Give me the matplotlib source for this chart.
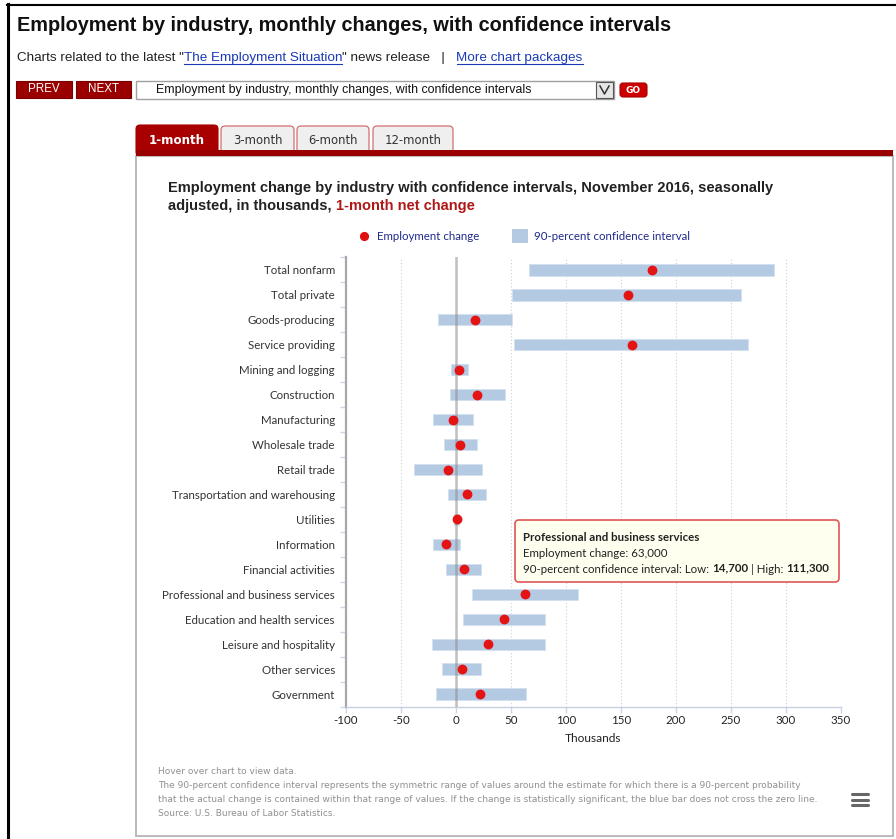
import matplotlib
matplotlib.use("Agg")
import matplotlib.pyplot as plt
from matplotlib.patches import Rectangle, FancyBboxPatch
from matplotlib.lines import Line2D

# ---------------- data ----------------
categories = [
    "Total nonfarm", "Total private", "Goods-producing", "Service providing",
    "Mining and logging", "Construction", "Manufacturing", "Wholesale trade",
    "Retail trade", "Transportation and warehousing", "Utilities", "Information",
    "Financial activities", "Professional and business services",
    "Education and health services", "Leisure and hospitality",
    "Other services", "Government",
]
change = [178, 156, 17, 160, 3, 19, -3, 4, -7, 10, 0.5, -9, 7, 63, 44, 29, 5, 22]
ci_low = [66, 51, -16, 53, -4.5, -5.5, -21, -11, -38, -7.5, -1.5, -21, -9, 14.7, 6.5, -22, -13, -18]
ci_high = [289, 259, 51, 265, 10.5, 44.5, 15.5, 19, 24, 27, 2.5, 4, 22.5, 111.3, 81, 81, 22.5, 64]
xticks = [-100, -50, 0, 50, 100, 150, 200, 250, 300, 350]

W, H = 896, 839
fig = plt.figure(figsize=(W / 100, H / 100), dpi=100)
fig.patch.set_facecolor("white")


def fx(x):
    return x / W


def fy(y):
    return 1 - y / H


def rect(x0, y0, x1, y1, **kw):
    r = Rectangle((fx(x0), fy(y1)), (x1 - x0) / W, (y1 - y0) / H,
                  transform=fig.transFigure, **kw)
    fig.patches.append(r)
    return r


def rrect(x0, y0, x1, y1, pad=3, **kw):
    r = FancyBboxPatch((fx(x0), fy(y1)), (x1 - x0) / W, (y1 - y0) / H,
                       boxstyle="round,pad=0,rounding_size=%f" % (pad / W),
                       transform=fig.transFigure, mutation_aspect=W / H, **kw)
    fig.patches.append(r)
    return r


def hline(x0, x1, y, **kw):
    fig.add_artist(Line2D([fx(x0), fx(x1)], [fy(y), fy(y)], transform=fig.transFigure, **kw))


def vline(x, y0, y1, **kw):
    fig.add_artist(Line2D([fx(x), fx(x)], [fy(y0), fy(y1)], transform=fig.transFigure, **kw))


renderer = fig.canvas.get_renderer()


def chain(x, y, parts, **common):
    """parts: list of (text, dict, dy). returns list of (x0,x1)"""
    spans = []
    for s, kw, dy in parts:
        d = dict(common)
        d.update(kw)
        t = fig.text(fx(x), fy(y + dy), s, va="baseline", ha="left", **d)
        bb = t.get_window_extent(renderer=renderer)
        spans.append((x, x + bb.width))
        x = x + bb.width
    return spans


# ---------------- page frame ----------------
vline(7.5, 4, 839, color="black", lw=2.2)
hline(7, 896, 5, color="black", lw=1.5)

# header
fig.text(fx(17), fy(31), "Employment by industry, monthly changes, with confidence intervals",
         family="Liberation Sans", weight="bold", fontsize=14.3, color="#111111", va="baseline")

link_col = "#1a3ab8"
spans = chain(17, 61, [
    ("Charts related to the latest \"", {}, 0),
    ("The Employment Situation", {"color": link_col}, 0),
    ("\" news release   |   ", {}, 0),
    ("More chart packages", {"color": link_col}, 0),
], family="Liberation Sans", fontsize=9.7, color="#222222")
for i in (1, 3):
    hline(spans[i][0], spans[i][1], 63.5, color=link_col, lw=0.8)

# buttons
rect(16, 81, 72, 98, facecolor="#9a0000", edgecolor="#7a0000", lw=0.8)
rect(76, 81, 131, 98, facecolor="#9a0000", edgecolor="#7a0000", lw=0.8)
fig.text(fx(44), fy(89.5), "PREV", color="white", fontsize=8.4, family="Liberation Sans",
         ha="center", va="center")
fig.text(fx(103.5), fy(89.5), "NEXT", color="white", fontsize=8.4, family="Liberation Sans",
         ha="center", va="center")
rect(136, 81, 614, 99, facecolor="white", edgecolor="#a0a0a0", lw=1)
fig.text(fx(156), fy(90), "Employment by industry, monthly changes, with confidence intervals",
         fontsize=8.9, family="Liberation Sans", color="#111111", va="center")
rect(596, 82, 613, 98, facecolor="#e6e6e6", edgecolor="#555555", lw=0.8)
fig.add_artist(Line2D([fx(600), fx(604.5), fx(609)], [fy(86), fy(94), fy(86)],
                      transform=fig.transFigure, color="#333333", lw=1.1))
rrect(620, 83, 647, 97, pad=3, facecolor="#cc0000", edgecolor="#aa0000", lw=0.8)
fig.text(fx(633.5), fy(90.3), "GO", color="white", fontsize=6.5, weight="bold",
         family="DejaVu Sans", ha="center", va="center")

# tabs
rrect(136, 125, 218, 156, pad=4, facecolor="#a80000", edgecolor="#a80000", lw=0.8)
for x0, x1 in [(221, 294), (297, 369), (373, 453)]:
    rrect(x0, 126, x1, 156, pad=4, facecolor="#efefef", edgecolor="#d27070", lw=0.9)
fig.text(fx(177), fy(141), "1-month", color="white", weight="bold", fontsize=8.6,
         family="DejaVu Sans", ha="center", va="center")
for xc, s in [(257.5, "3-month"), (333, "6-month"), (413, "12-month")]:
    fig.text(fx(xc), fy(141), s, color="#333333", fontsize=8.4, family="DejaVu Sans",
             ha="center", va="center")

# panel
rect(136, 156, 892.5, 836, facecolor="white", edgecolor="#b5b5b5", lw=1.3)
rect(136, 150, 893, 156, facecolor="#990000", edgecolor="none")

# chart title
fig.text(fx(168), fy(192), "Employment change by industry with confidence intervals, November 2016, seasonally",
         family="Liberation Sans", weight="bold", fontsize=10.5, color="#222222", va="baseline")
chain(168, 210, [
    ("adjusted, in thousands, ", {"color": "#222222"}, 0),
    ("1-month net change", {"color": "#b01818"}, 0),
], family="Liberation Sans", weight="bold", fontsize=10.5)

# legend
fig.add_artist(Line2D([fx(364)], [fy(236)], marker="o", markersize=5.6, color="#e01010",
                      transform=fig.transFigure, linestyle="none"))
fig.text(fx(377), fy(236), "Employment change", color="#1f2a8a", fontsize=8.3,
         family="Lato", va="center")
rect(512, 229, 528, 243, facecolor="#b4c9e2", edgecolor="none")
fig.text(fx(534), fy(236), "90-percent confidence interval", color="#1f2a8a", fontsize=8.3,
         family="Lato", va="center")

# ---------------- main plot ----------------
left, right, top, bottom = 346, 841, 257.5, 706.5
ax = fig.add_axes([fx(left), fy(bottom), (right - left) / W, (bottom - top) / H])
ax.set_zorder(5)
ax.set_facecolor("none")
ypos = list(range(len(categories)))
widths = [h - l for l, h in zip(ci_low, ci_high)]
ax.barh(ypos, widths, left=ci_low, height=0.45, color="#b4c9e2", edgecolor="#d3e0ef",
        linewidth=0.6, zorder=2)
ax.scatter(change, ypos, s=50, color="#e51414", zorder=4, linewidths=0)
ax.axvline(0, color="#8c8c8c", lw=1.8, alpha=0.55, zorder=3)
ax.set_xlim(xticks[0], xticks[-1])
ax.set_ylim(len(categories) - 0.5, -0.5)
ax.set_xticks(xticks)
ax.set_xticklabels([str(v) for v in xticks], family="Lato", fontsize=8.3, color="#222222")
for v in xticks[1:]:
    if v != 0:
        ax.axvline(v, color="#d0d0d0", lw=0.8, linestyle=(0, (1, 2)), zorder=1)
ax.set_yticks(ypos)
ax.set_yticklabels(categories, family="Lato", fontsize=8.3, color="#333333")
ax.set_yticks([i + 0.5 for i in range(-1, len(categories))], minor=True)
ax.tick_params(axis="y", which="major", length=0, pad=8)
ax.tick_params(axis="y", which="minor", length=4, color="#ccd6eb", width=1)
ax.tick_params(axis="x", which="major", length=4, color="#ccd6eb", width=1, pad=2)
for s in ("top", "right"):
    ax.spines[s].set_visible(False)
ax.spines["left"].set_color("#a8a8a8")
ax.spines["left"].set_linewidth(1.6)
ax.spines["bottom"].set_color("#c7d0e0")
ax.spines["bottom"].set_linewidth(1)
ax.set_xlabel("Thousands", family="Lato", fontsize=8.6, color="#222222", labelpad=5)

# tooltip
rrect(515, 520, 839, 582, pad=4, facecolor="#fffff0", edgecolor="#e05555", lw=1.2, zorder=10)
fig.text(fx(523), fy(541), "Professional and business services", family="Lato", weight="bold",
         fontsize=8.3, color="#222222", va="baseline", zorder=11)
fig.text(fx(523), fy(557), "Employment change: 63,000", family="Lato",
         fontsize=8.3, color="#222222", va="baseline", zorder=11)
chain(523, 573, [
    ("90-percent confidence interval: Low: ", {}, 0),
    ("14,700", {"weight": "bold"}, -2),
    (" | High: ", {}, 0),
    ("111,300", {"weight": "bold"}, -2),
], family="Lato", fontsize=8.3, color="#222222", zorder=11)

# footer
foot = [
    "Hover over chart to view data.",
    "The 90-percent confidence interval represents the symmetric range of values around the estimate for which there is a 90-percent probability",
    "that the actual change is contained within that range of values. If the change is statistically significant, the blue bar does not cross the zero line.",
    "Source: U.S. Bureau of Labor Statistics.",
]
for i, s in enumerate(foot):
    fig.text(fx(158), fy(772 + i * 14), s, family="DejaVu Sans", fontsize=6.5,
             color="#909090", va="center")
for yy in (794, 799.5, 805):
    hline(852, 868, yy, color="#666666", lw=2.2, solid_capstyle="round")

fig.savefig("out.png", dpi=100, facecolor="white")
